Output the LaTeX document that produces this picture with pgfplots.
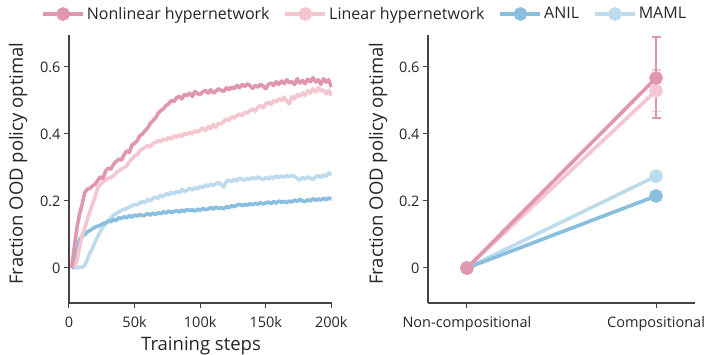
\documentclass[border=0pt]{standalone}
\usepackage{pgfplots}
\pgfplotsset{compat=1.18}
\usepackage{fontspec}
\setmainfont{Open Sans}

\definecolor{nonlin}{HTML}{E196B0}
\definecolor{lin}{HTML}{F4C6D0}
\definecolor{anil}{HTML}{88BEDE}
\definecolor{maml}{HTML}{BEDBEE}
\definecolor{axisgray}{HTML}{444444}
\definecolor{labelgray}{HTML}{262626}

\pgfplotsset{
  panel/.style={
    scale only axis,
    height=268pt,
    ymin=-0.1045, ymax=0.6955,
    axis lines=left,
    axis line style={-, draw=axisgray, line width=1.1pt},
    tick align=outside,
    major tick length=5pt,
    tick style={axisgray, line width=1pt},
    ytick={0,0.2,0.4,0.6},
    yticklabels={0,0.2,0.4,0.6},
    tick label style={font=\fontsize{14.5}{17}\selectfont, text=labelgray},
    xticklabel style={yshift=-5pt},
    ylabel={Fraction OOD policy optimal},
  },
  curve/.style={line width=3.6pt, line join=round, no marks},
  dot/.style={line width=3.6pt, mark=*, mark size=5pt,
    mark options={solid, fill=#1, draw=none}, draw=#1},
  % legend sample: a short stroke with one dot in its middle
  legend image code/.code={%
    \draw[#1, mark=none] (0pt,0pt) -- (40pt,0pt);
    \path[#1] plot coordinates {(20pt,0pt)};},
}

\begin{document}
\begin{tikzpicture}
\path[use as bounding box] (0pt,0pt) rectangle (709pt,354pt);

% Learning curves over training
\begin{axis}[panel,
  at={(69pt,51pt)}, anchor=south west,
  width=263pt,
  xmin=0, xmax=200500,
  xtick={0,50000,100000,150000,200000},
  xticklabels={0,50k,100k,150k,200k},
  scaled x ticks=false,
  xlabel={Training steps},
  every axis x label/.style={at={(axis description cs:0.502,-0.159)}, anchor=center,
    font=\fontsize{18.5}{22}\selectfont, text=labelgray},
  every axis y label/.style={at={(axis description cs:-0.194,0.52)}, anchor=center, rotate=90,
    font=\fontsize{18.5}{22}\selectfont, text=labelgray},
]
\addplot[curve, maml] coordinates {
(2000,0) (4000,0.002) (6000,0) (8000,0.003) (10000,0.002) (12000,0.008) (14000,0.025) (16000,0.045) (18000,0.06) (20000,0.078) (22000,0.095) (24000,0.11) (26000,0.122) (28000,0.133) (30000,0.14) (32000,0.15) (34000,0.158) (36000,0.162) (38000,0.168) (40000,0.172) (42000,0.175) (44000,0.178) (46000,0.182) (48000,0.185) (50000,0.19) (52000,0.188) (54000,0.195) (56000,0.198) (58000,0.195) (60000,0.205) (62000,0.2) (64000,0.208) (66000,0.212) (68000,0.208) (70000,0.218) (72000,0.213) (74000,0.222) (76000,0.218) (78000,0.226) (80000,0.222) (82000,0.228) (84000,0.225) (86000,0.235) (88000,0.228) (90000,0.232) (92000,0.238) (94000,0.233) (96000,0.24) (98000,0.236) (100000,0.243) (102000,0.24) (104000,0.248) (106000,0.244) (108000,0.25) (110000,0.246) (112000,0.252) (114000,0.255) (116000,0.25) (118000,0.242) (120000,0.258) (122000,0.262) (124000,0.258) (126000,0.265) (128000,0.26) (130000,0.268) (132000,0.265) (134000,0.262) (136000,0.268) (138000,0.265) (140000,0.27) (142000,0.266) (144000,0.272) (146000,0.268) (148000,0.264) (150000,0.27) (152000,0.266) (154000,0.272) (156000,0.268) (158000,0.274) (160000,0.27) (162000,0.275) (164000,0.271) (166000,0.276) (168000,0.272) (170000,0.277) (172000,0.273) (174000,0.268) (176000,0.262) (178000,0.27) (180000,0.266) (182000,0.272) (184000,0.268) (186000,0.265) (188000,0.272) (190000,0.276) (192000,0.27) (194000,0.278) (196000,0.273) (198000,0.285) (200000,0.278)
};
\addplot[curve, anil] coordinates {
(2000,0) (4000,0.005) (6000,0.05) (8000,0.085) (10000,0.095) (12000,0.1) (14000,0.108) (16000,0.112) (18000,0.118) (20000,0.122) (22000,0.125) (24000,0.128) (26000,0.133) (28000,0.135) (30000,0.14) (32000,0.138) (34000,0.145) (36000,0.142) (38000,0.15) (40000,0.148) (42000,0.153) (44000,0.15) (46000,0.156) (48000,0.152) (50000,0.158) (52000,0.155) (54000,0.16) (56000,0.156) (58000,0.158) (60000,0.162) (62000,0.158) (64000,0.164) (66000,0.16) (68000,0.165) (70000,0.162) (72000,0.168) (74000,0.164) (76000,0.17) (78000,0.166) (80000,0.168) (82000,0.172) (84000,0.167) (86000,0.173) (88000,0.169) (90000,0.175) (92000,0.171) (94000,0.174) (96000,0.17) (98000,0.176) (100000,0.172) (102000,0.178) (104000,0.174) (106000,0.176) (108000,0.18) (110000,0.176) (112000,0.182) (114000,0.178) (116000,0.18) (118000,0.177) (120000,0.183) (122000,0.18) (124000,0.186) (126000,0.183) (128000,0.188) (130000,0.19) (132000,0.186) (134000,0.19) (136000,0.187) (138000,0.192) (140000,0.189) (142000,0.193) (144000,0.19) (146000,0.195) (148000,0.191) (150000,0.194) (152000,0.197) (154000,0.192) (156000,0.198) (158000,0.194) (160000,0.2) (162000,0.196) (164000,0.199) (166000,0.195) (168000,0.2) (170000,0.197) (172000,0.203) (174000,0.199) (176000,0.205) (178000,0.2) (180000,0.198) (182000,0.204) (184000,0.2) (186000,0.207) (188000,0.202) (190000,0.206) (192000,0.203) (194000,0.208) (196000,0.204) (198000,0.209) (200000,0.205)
};
\addplot[curve, lin] coordinates {
(4000,0) (6000,0.02) (8000,0.06) (10000,0.095) (12000,0.12) (14000,0.145) (16000,0.17) (18000,0.19) (20000,0.215) (22000,0.24) (24000,0.25) (26000,0.258) (28000,0.262) (30000,0.268) (32000,0.27) (34000,0.275) (36000,0.285) (38000,0.29) (40000,0.295) (42000,0.3) (44000,0.305) (46000,0.318) (48000,0.325) (50000,0.335) (52000,0.338) (54000,0.35) (56000,0.355) (58000,0.36) (60000,0.365) (62000,0.362) (64000,0.372) (66000,0.375) (68000,0.38) (70000,0.378) (72000,0.385) (74000,0.382) (76000,0.39) (78000,0.385) (80000,0.395) (82000,0.39) (84000,0.398) (86000,0.392) (88000,0.402) (90000,0.398) (92000,0.405) (94000,0.4) (96000,0.41) (98000,0.405) (100000,0.412) (102000,0.418) (104000,0.41) (106000,0.422) (108000,0.416) (110000,0.428) (112000,0.42) (114000,0.432) (116000,0.43) (118000,0.438) (120000,0.445) (122000,0.44) (124000,0.452) (126000,0.448) (128000,0.455) (130000,0.46) (132000,0.455) (134000,0.465) (136000,0.462) (138000,0.47) (140000,0.475) (142000,0.468) (144000,0.48) (146000,0.485) (148000,0.478) (150000,0.49) (152000,0.495) (154000,0.488) (156000,0.5) (158000,0.495) (160000,0.505) (162000,0.5) (164000,0.51) (166000,0.498) (168000,0.49) (170000,0.512) (172000,0.505) (174000,0.518) (176000,0.512) (178000,0.522) (180000,0.515) (182000,0.53) (184000,0.522) (186000,0.535) (188000,0.525) (190000,0.538) (192000,0.528) (194000,0.532) (196000,0.52) (198000,0.53) (200000,0.515)
};
\addplot[curve, nonlin] coordinates {
(2000,0) (4000,0.06) (6000,0.12) (8000,0.16) (10000,0.19) (12000,0.225) (14000,0.235) (16000,0.238) (18000,0.245) (20000,0.25) (22000,0.262) (24000,0.272) (26000,0.268) (28000,0.29) (30000,0.298) (32000,0.295) (34000,0.31) (36000,0.318) (38000,0.325) (40000,0.322) (42000,0.338) (44000,0.35) (46000,0.345) (48000,0.367) (50000,0.372) (52000,0.38) (54000,0.395) (56000,0.4) (58000,0.41) (60000,0.418) (62000,0.432) (64000,0.44) (66000,0.448) (68000,0.462) (70000,0.47) (72000,0.475) (74000,0.485) (76000,0.49) (78000,0.5) (80000,0.497) (82000,0.508) (84000,0.512) (86000,0.505) (88000,0.518) (90000,0.515) (92000,0.522) (94000,0.512) (96000,0.527) (98000,0.52) (100000,0.518) (102000,0.526) (104000,0.53) (106000,0.522) (108000,0.532) (110000,0.522) (112000,0.528) (114000,0.535) (116000,0.53) (118000,0.527) (120000,0.538) (122000,0.532) (124000,0.54) (126000,0.535) (128000,0.545) (130000,0.538) (132000,0.548) (134000,0.542) (136000,0.55) (138000,0.544) (140000,0.536) (142000,0.545) (144000,0.54) (146000,0.548) (148000,0.543) (150000,0.535) (152000,0.548) (154000,0.552) (156000,0.545) (158000,0.556) (160000,0.548) (162000,0.558) (164000,0.55) (166000,0.562) (168000,0.553) (170000,0.556) (172000,0.548) (174000,0.565) (176000,0.552) (178000,0.56) (180000,0.55) (182000,0.564) (184000,0.556) (186000,0.568) (188000,0.555) (190000,0.562) (192000,0.548) (194000,0.565) (196000,0.555) (198000,0.562) (200000,0.54)
};
\end{axis}

% Final performance by task split
\begin{axis}[panel,
  at={(428pt,51pt)}, anchor=south west,
  width=267pt,
  xmin=-0.206, xmax=1.206,
  xtick={0,1},
  xticklabels={Non-compositional,Compositional},
  every axis y label/.style={at={(axis description cs:-0.187,0.52)}, anchor=center, rotate=90,
    font=\fontsize{18.5}{22}\selectfont, text=labelgray},
  clip=false,
  legend columns=4,
  legend style={draw=none, fill=none, at={(axis description cs:-1.449,1.0784)},
    anchor=west, font=\fontsize{16}{19}\selectfont, text=labelgray,
    /tikz/every even column/.append style={column sep=12pt},
    inner sep=0pt},
  legend cell align=left,
]
\addlegendimage{dot=nonlin}
\addlegendentry{Nonlinear hypernetwork}
\addlegendimage{dot=lin}
\addlegendentry{Linear hypernetwork}
\addlegendimage{dot=anil}
\addlegendentry{ANIL}
\addlegendimage{dot=maml}
\addlegendentry{MAML}

\addplot[dot=maml, forget plot,
  error bars/.cd, y dir=both, y explicit,
  error bar style={line width=1.8pt, maml},
  error mark options={rotate=90, mark size=4.5pt, line width=1.8pt, maml}]
  coordinates {(0,0) +- (0,0) (1,0.274) +- (0,0.008)};
\addplot[dot=anil, forget plot,
  error bars/.cd, y dir=both, y explicit,
  error bar style={line width=1.8pt, anil},
  error mark options={rotate=90, mark size=4.5pt, line width=1.8pt, anil}]
  coordinates {(0,0) +- (0,0) (1,0.215) +- (0,0.006)};
\addplot[dot=lin, forget plot,
  error bars/.cd, y dir=both, y explicit,
  error bar style={line width=1.8pt, lin},
  error mark options={rotate=90, mark size=4.5pt, line width=1.8pt, lin}]
  coordinates {(0,0) +- (0,0) (1,0.529) += (0,0.062) -= (0,0.062)};
\addplot[dot=nonlin, forget plot,
  error bars/.cd, y dir=both, y explicit,
  error bar style={line width=1.8pt, nonlin},
  error mark options={rotate=90, mark size=4.5pt, line width=1.8pt, nonlin}]
  coordinates {(0,0) +- (0,0) (1,0.567) += (0,0.123) -= (0,0.12)};
\end{axis}
\end{tikzpicture}
\end{document}
